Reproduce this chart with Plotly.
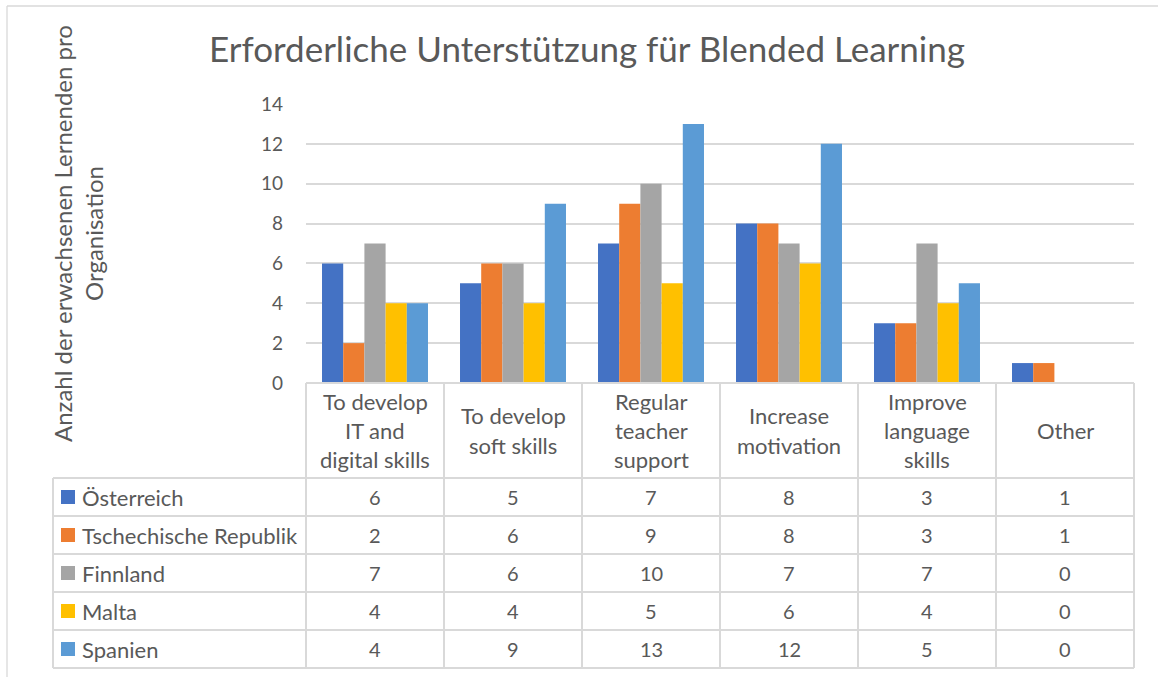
import plotly.graph_objects as go

# ---- data ----
categories = [
    ["To develop", "IT and", "digital skills"],
    ["To develop", "soft skills"],
    ["Regular", "teacher", "support"],
    ["Increase", "motivation"],
    ["Improve", "language", "skills"],
    ["Other"],
]
series_names = ["Österreich", "Tschechische Republik", "Finnland", "Malta", "Spanien"]
oesterreich = [6, 5, 7, 8, 3, 1]
tschechien = [2, 6, 9, 8, 3, 1]
finnland = [7, 6, 10, 7, 7, 0]
malta = [4, 4, 5, 6, 4, 0]
spanien = [4, 9, 13, 12, 5, 0]
series_values = [oesterreich, tschechien, finnland, malta, spanien]
colors = ["#4472C4", "#ED7D31", "#A5A5A5", "#FFC000", "#5B9BD5"]
y_ticks = [0, 2, 4, 6, 8, 10, 12, 14]

title = "Erforderliche Unterstützung für Blended Learning"
y_title = "Anzahl der erwachsenen Lernenden pro<br>Organisation"

# ---- layout geometry (pixels) ----
W, H = 1158, 677
PL, PR, PT, PB = 306, 1134, 104, 383
FONT = "Lato"
TXT = "#595959"
GRID = "#d9d9d9"
HEADER_BOTTOM = 478
ROW_H = 38
LEG_LEFT = 53


def xp(px):
    return (px - PL) / (PR - PL)


def yp(py):
    return (PB - py) / (PB - PT)


n = len(categories)
x_idx = list(range(n))

fig = go.Figure()
for name, vals, col in zip(series_names, series_values, colors):
    fig.add_trace(go.Bar(x=x_idx, y=vals, name=name, marker=dict(color=col, line=dict(width=0)),
                         hoverinfo="y+name"))

shapes = []
annotations = []

# outer chart border (top + left visible)
shapes.append(dict(type="line", xref="paper", yref="paper", x0=xp(7), x1=xp(W), y0=yp(6), y1=yp(6),
                   line=dict(color=GRID, width=1.3)))
shapes.append(dict(type="line", xref="paper", yref="paper", x0=xp(7), x1=xp(7), y0=yp(6), y1=yp(H),
                   line=dict(color=GRID, width=1.3)))

tline = dict(color=GRID, width=2)
n_rows = len(series_names)
table_bottom = HEADER_BOTTOM + ROW_H * n_rows
# column boundaries (category edges from axis scale)
for i in range(n + 1):
    xb = i / n
    shapes.append(dict(type="line", xref="paper", yref="paper", x0=xb, x1=xb,
                       y0=yp(PB), y1=yp(table_bottom), line=tline))
# header top line
shapes.append(dict(type="line", xref="paper", yref="paper", x0=0, x1=1, y0=yp(PB), y1=yp(PB), line=tline))
# row lines
for r in range(n_rows + 1):
    yy = HEADER_BOTTOM + r * ROW_H
    shapes.append(dict(type="line", xref="paper", yref="paper", x0=xp(LEG_LEFT), x1=1, y0=yp(yy), y1=yp(yy),
                       line=tline))
# legend column left line
shapes.append(dict(type="line", xref="paper", yref="paper", x0=xp(LEG_LEFT), x1=xp(LEG_LEFT),
                   y0=yp(HEADER_BOTTOM), y1=yp(table_bottom), line=tline))

# category header text (each line placed separately)
LINE_SP = 29
header_mid = (PB + HEADER_BOTTOM) / 2
for i, lines in enumerate(categories):
    k = len(lines)
    for j, ln in enumerate(lines):
        cy = header_mid + (j - (k - 1) / 2) * LINE_SP
        annotations.append(dict(x=i, y=yp(cy), xref="x", yref="paper", text=ln, showarrow=False,
                                xanchor="center", yanchor="middle",
                                font=dict(family=FONT, size=22, color=TXT)))

# table rows
for r, (name, vals, col) in enumerate(zip(series_names, series_values, colors)):
    cy = HEADER_BOTTOM + r * ROW_H + ROW_H / 2
    shapes.append(dict(type="rect", xref="paper", yref="paper", x0=xp(61), x1=xp(75),
                       y0=yp(cy - 7), y1=yp(cy + 7), fillcolor=col, line=dict(width=0)))
    annotations.append(dict(x=xp(80), y=yp(cy), xref="paper", yref="paper", text=name, showarrow=False,
                            xanchor="left", yanchor="middle",
                            font=dict(family=FONT, size=22, color=TXT)))
    for i, v in enumerate(vals):
        annotations.append(dict(x=i, y=yp(cy), xref="x", yref="paper", text=str(v), showarrow=False,
                                xanchor="center", yanchor="middle",
                                font=dict(family=FONT, size=20, color=TXT)))

# y-axis title
annotations.append(dict(x=xp(78), y=yp(234), xref="paper", yref="paper", text=y_title, showarrow=False,
                        textangle=-90, xanchor="center", yanchor="middle",
                        font=dict(family=FONT, size=24, color=TXT)))

fig.update_layout(
    width=W, height=H,
    margin=dict(l=PL, r=W - PR, t=PT, b=H - PB, autoexpand=False),
    paper_bgcolor="white", plot_bgcolor="white",
    barmode="group", bargap=0.232, bargroupgap=0,
    showlegend=False,
    title=dict(text=title, xref="paper", x=xp(587), xanchor="center",
               yref="container", y=1 - 50 / H, yanchor="middle",
               font=dict(family=FONT, size=35, color=TXT)),
    xaxis=dict(range=[-0.5, n - 0.5], showticklabels=False, showgrid=False, zeroline=False,
               showline=False, fixedrange=True),
    yaxis=dict(range=[0, 14], tickvals=y_ticks, showgrid=True, gridcolor=GRID, gridwidth=1.5,
               zeroline=False, showline=False, ticks="", ticklabelstandoff=22,
               tickfont=dict(family=FONT, size=19, color=TXT), fixedrange=True),
    shapes=shapes,
    annotations=annotations,
)

fig.write_html("out.html", config={"displayModeBar": False},
               post_script="document.body.style.margin='0';document.body.style.overflow='hidden';")
